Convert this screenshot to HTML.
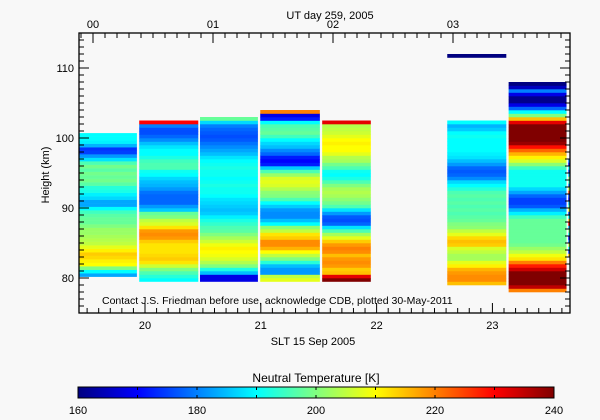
<!DOCTYPE html>
<html><head><meta charset="utf-8"><style>
html,body{margin:0;padding:0;background:#f8f8f8;}
svg{display:block;font-family:"Liberation Sans",sans-serif;}
</style></head><body>
<svg id="chart" width="600" height="420" viewBox="0 0 600 420">
<rect width="600" height="420" fill="#f8f8f8"/>
<g id="cells"></g>
<g id="axes"></g>
<text x="330" y="19" font-size="11" text-anchor="middle">UT day 259, 2005</text>
<text x="313" y="345" font-size="11" text-anchor="middle">SLT 15 Sep 2005</text>
<text transform="translate(49,175) rotate(-90)" font-size="11" text-anchor="middle">Height (km)</text>
<text x="102" y="304" font-size="10.5">Contact J.S. Friedman before use, acknowledge CDB, plotted 30-May-2011</text>
<text x="316" y="382" font-size="12" text-anchor="middle">Neutral Temperature [K]</text>
<g id="cbar"></g>
</svg>
<script>
// ---- data ----
const colStart = [19.43, 19.95, 20.475, 20.995, 21.53, 22.61, 23.14];
const colEnd   = [19.93, 20.46, 20.975, 21.51, 21.95, 23.12, 23.64];
const colBottom = [80.2, 79.5, 79.5, 79.5, 79.5, 79.0, 78.0];
const binKm = 0.5;
const col1 = [183,190,200,210,211,213,214,211,208,205,204,203,202,202,200,198,198,197,195,190,183,183,187,189,192,193,197,199,198,199,197,199,196,188,182,175,174,184,189,190,190];
const col2 = [190,193,196,200,206,212,214,213,212,212,212,214,218,219,218,212,207,205,200,198,186,182,178,178,178,179,182,184,185,187,190,191,196,196,195,192,190,190,188,185,181,178,176,176,180,230];
const col3 = [168,168,185,192,200,204,207,209,210,211,209,206,203,200,197,196,194,192,189,186,185,186,187,188,190,191,191,192,191,190,191,191,192,191,190,188,185,183,181,179,177,176,177,178,180,187,198];
const col4 = [208,205,182,182,185,193,200,205,210,216,219,219,214,212,205,201,190,185,181,181,182,186,190,196,200,201,204,207,208,207,202,196,186,172,170,172,178,181,185,187,190,195,198,197,196,190,172,168,220];
const col5 = [240,232,215,214,218,219,218,215,219,220,218,214,208,203,196,188,178,176,177,182,188,196,199,201,203,204,203,200,196,192,190,191,196,199,203,204,208,210,210,211,210,208,206,205,204,232];
const col6 = [215,219,219,218,216,211,208,203,203,205,207,214,215,213,208,205,201,200,198,197,196,197,196,197,196,197,196,193,190,187,181,178,177,178,182,185,188,189,190,190,190,190,191,190,186,184,190];
const col7 = [220,235,240,240,240,240,234,228,220,212,209,205,202,199,198,198,198,198,198,198,198,195,189,184,177,175,175,178,183,187,191,191,191,191,191,195,201,207,211,216,222,229,238,240,240,240,240,240,232,215,200,190,178,168,161,161,168,180,165,160];
const columns = [col1,col2,col3,col4,col5,col6,col7];
// isolated segment above column 6
const extraStart = [22.61], extraEnd = [23.12], extraBottom = [111.5], extraTemp = [160];
// thin partial strip at right edge
const stripStart = 23.655, stripEnd = 23.67, stripBottom = 83.0;
const strip = [215,175,190,205,180,170,190,200,185,230,215,190,175,210,195,185,170,175,225,205,180,195,200,185,175,190,170,180];
const yTicks = [80,90,100,110];
const xTicks = [20,21,22,23];
const utTicks = ['00','01','02','03'];
const cbTicks = [160,180,200,220,240];
// ---- scales ----
const X0=79, X1=570, Y0=33, Y1=313;
const T0=19.43, T1=23.67, H0=75, H1=115;
const xs = t => X0 + (t-T0)/(T1-T0)*(X1-X0);
const ys = h => Y1 - (h-H0)/(H1-H0)*(Y1-Y0);
const utx = u => 93 + u*120;
const TMIN=160, TMAX=240;
function jet(v){
  let t=(v-TMIN)/(TMAX-TMIN); t=Math.max(0,Math.min(1,t));
  const c=x=>Math.round(255*Math.max(0,Math.min(1,x)));
  return `rgb(${c(1.5-Math.abs(4*t-3))},${c(1.5-Math.abs(4*t-2))},${c(1.5-Math.abs(4*t-1))})`;
}
const NS='http://www.w3.org/2000/svg';
function mk(tag,attrs,parent){const e=document.createElementNS(NS,tag);for(const k in attrs)e.setAttribute(k,attrs[k]);parent.appendChild(e);return e;}
const cells=document.getElementById('cells');
function drawBin(t0,t1,hb,v,name){
  const xa=Math.max(xs(t0),X0), xb=Math.min(xs(t1),X1);
  const ya=ys(hb+binKm), yb=ys(hb);
  const r=mk('rect',{x:xa,y:ya,width:Math.max(0,xb-xa),height:yb-ya+0.3,fill:jet(v)},cells);
  
  
}
columns.forEach((arr,ci)=>{
  arr.forEach((v,i)=>drawBin(colStart[ci],colEnd[ci],colBottom[ci]+i*binKm,v,'heatmap-cell'));
});
extraTemp.forEach((v,i)=>drawBin(extraStart[i],extraEnd[i],extraBottom[i],v,'heatmap-cell'));
strip.forEach((v,i)=>{
  const xa=xs(stripStart), xb=Math.min(xs(stripEnd),X1);
  const h=stripBottom+i*binKm;
  const r=mk('rect',{x:xa,y:ys(h+binKm),width:Math.max(0,xb-xa),height:ys(h)-ys(h+binKm)+0.3,fill:jet(v)},cells);
  
  
});
// ---- axes ----
const ax=document.getElementById('axes');
mk('rect',{x:X0,y:Y0,width:X1-X0,height:Y1-Y0,fill:'none',stroke:'#000','stroke-width':1.3},ax);
for(let h=76;h<=114;h++){
  const maj=h%10===0, L=maj?10:5, y=ys(h);
  mk('line',{x1:X0,y1:y,x2:X0+L,y2:y,stroke:'#000'},ax);
  mk('line',{x1:X1,y1:y,x2:X1-L,y2:y,stroke:'#000'},ax);
}
yTicks.forEach(h=>{
  const t=mk('text',{x:74,y:ys(h)+4,'font-size':11,'text-anchor':'end'},ax);
  t.textContent=h;
  
  
});
for(let k=195;k<=236;k++){
  const t=k/10; if(t<T0||t>T1) continue;
  const maj=k%10===0, L=maj?10:5, x=xs(t);
  mk('line',{x1:x,y1:Y1,x2:x,y2:Y1-L,stroke:'#000'},ax);
}
xTicks.forEach(h=>{
  const t=mk('text',{x:xs(h),y:329,'font-size':11,'text-anchor':'middle'},ax);
  t.textContent=h;
  
  
});
for(let k=-1;k<=39;k++){
  const x=utx(k/10); if(x<X0||x>X1) continue;
  const maj=k%10===0, L=maj?10:5;
  mk('line',{x1:x,y1:Y0,x2:x,y2:Y0+L,stroke:'#000'},ax);
}
utTicks.forEach((s,i)=>{
  const t=mk('text',{x:utx(i),y:28,'font-size':11,'text-anchor':'middle'},ax);
  t.textContent=s;
  
  
});
// ---- colorbar ----
const cb=document.getElementById('cbar');
const CX0=78, CX1=554, CY0=387, CY1=398;
const cbx=v=>CX0+(v-TMIN)/(TMAX-TMIN)*(CX1-CX0);
const defs=mk('defs',{},cb);
const g=mk('linearGradient',{id:'jetg',x1:0,x2:1,y1:0,y2:0},defs);
for(let i=0;i<=16;i++){const v=TMIN+i*(TMAX-TMIN)/16;mk('stop',{offset:i/16,'stop-color':jet(v)},g);}
mk('rect',{x:CX0,y:CY0,width:CX1-CX0,height:CY1-CY0,fill:'url(#jetg)',stroke:'#000','stroke-width':1},cb);
for(let v=170;v<240;v+=10){mk('line',{x1:cbx(v),y1:CY0,x2:cbx(v),y2:CY0+3,stroke:'#000'},cb);mk('line',{x1:cbx(v),y1:CY1,x2:cbx(v),y2:CY1-3,stroke:'#000'},cb);}
cbTicks.forEach(v=>{
  const t=mk('text',{x:cbx(v),y:414,'font-size':11,'text-anchor':'middle'},cb);
  t.textContent=v;
  
  
});
</script>
</body></html>
